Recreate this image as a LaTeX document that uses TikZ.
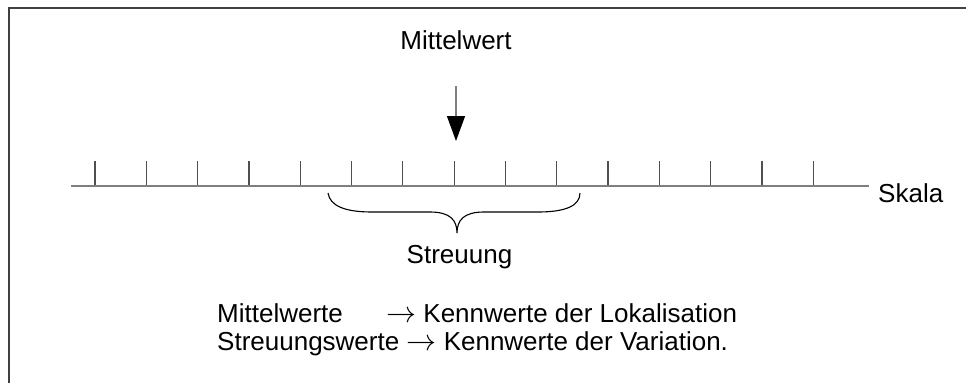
\documentclass[tikz,border=0pt]{standalone}
\usepackage{fontspec}
\usepackage{graphicx}
\setmainfont{Liberation Sans}
\usetikzlibrary{arrows.meta}
\definecolor{bordergray}{HTML}{404040}
\definecolor{linegray}{HTML}{7F7F7F}
\definecolor{tickgray}{HTML}{505050}
\newcommand{\rarr}{\resizebox{30pt}{!}{$\rightarrow$}}
\begin{document}
\begin{tikzpicture}[x=1pt,y=-1pt,
  lbl/.style={inner sep=0pt, font=\fontsize{26}{31}\selectfont},
  tickmark/.style={draw=tickgray, line width=1.2pt},
  scaleline/.style={draw=linegray, line width=1.5pt},
  bracepath/.style={draw=black, line width=1.1pt},
  pointer/.style={draw=linegray, line width=1.3pt, -{Triangle[width=18pt,length=25pt,black]}},
]
\useasboundingbox (0,0) rectangle (966,383);
% frame (top and left only)
\draw[bordergray, line width=2pt] (8.5,383) -- (8.5,7.5) -- (966,7.5);
% labels
\node[lbl, anchor=base] (mw) at (456,49) {Mittelwert};
\node[lbl, anchor=base west] (skala) at (878,202) {Skala};
\node[lbl, anchor=base] (streu) at (459.5,263) {Streuung};
\node[lbl, anchor=base west] (l1a) at (217,322) {Mittelwerte};
\node[lbl, anchor=base west] (l1b) at (386,322) {\rarr{} Kennwerte der Lokalisation};
\node[lbl, anchor=base west] (l2) at (217,350) {Streuungswerte \rarr{} Kennwerte der Variation.};
% scale
\coordinate (s0) at (71,186);
\coordinate (s1) at (869,186);
\foreach \i in {0,...,14} \draw[tickmark] (95+\i*51.3,161) -- (95+\i*51.3,186);
\draw[scaleline] (s0) -- (s1);
% pointer
\coordinate (pstart) at (456,86);
\coordinate (ptip) at (456,141);
\draw[pointer] (pstart) -- (ptip);
% brace
\coordinate (bl) at (328,193);
\coordinate (bt) at (457,233);
\coordinate (br) at (580,193);
\draw[bracepath] (bl) .. controls (330,206) and (345,212) .. (372,212)
  -- (430,212) .. controls (450,212) and (457,220) .. (bt)
  .. controls (457,220) and (464,212) .. (484,212)
  -- (538,212) .. controls (565,212) and (580,206) .. (br);
\end{tikzpicture}
\end{document}
